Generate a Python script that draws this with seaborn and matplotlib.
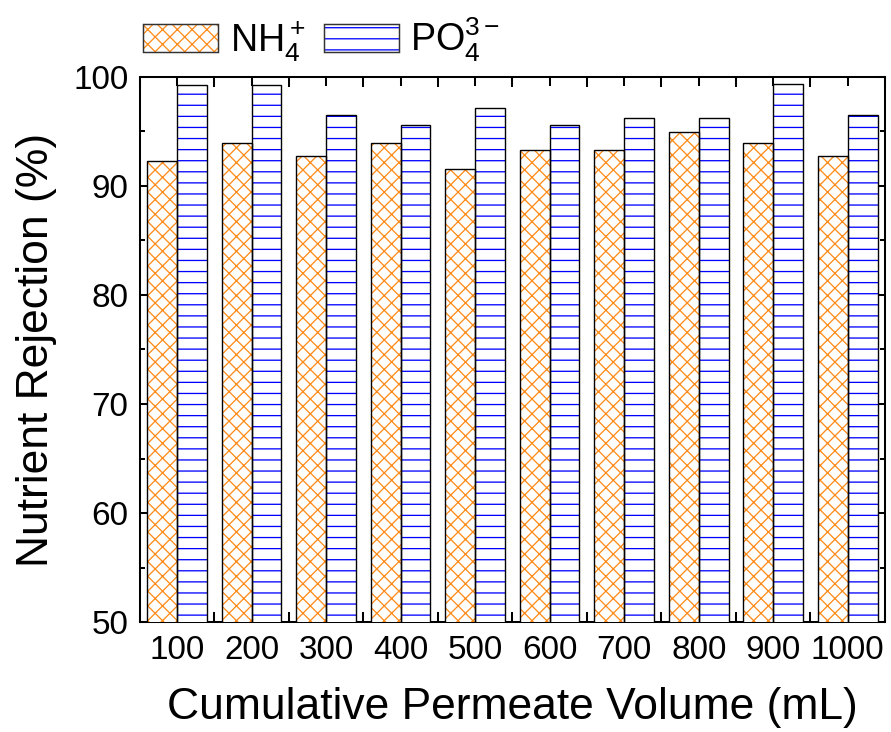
import numpy as np
import pandas as pd
import matplotlib
matplotlib.use('Agg')
import matplotlib.pyplot as plt
import matplotlib.patches as mpatches
import seaborn as sns
from matplotlib.ticker import MultipleLocator, FixedLocator

# values
volumes = ['100', '200', '300', '400', '500', '600', '700', '800', '900', '1000']
nh4 = [92.3, 93.9, 92.7, 93.9, 91.5, 93.3, 93.3, 94.9, 93.9, 92.7]
po4 = [99.2, 99.2, 96.5, 95.6, 97.1, 95.6, 96.2, 96.2, 99.3, 96.5]
ions = ['NH4', 'PO4']
ion_labels = [r'NH$_4^+$', r'PO$_4^{3-}$']

hatch_colors = {'NH4': '#ff8c1a', 'PO4': '#0000ff'}
hatches = {'NH4': 'xxx', 'PO4': '--'}

df = pd.DataFrame({
    'Volume': volumes * 2,
    'Rejection': nh4 + po4,
    'Ion': ['NH4'] * len(volumes) + ['PO4'] * len(volumes),
})

sns.set_theme(style='ticks', rc={
    'axes.edgecolor': 'black',
    'axes.linewidth': 1.1,
    'xtick.color': 'black',
    'ytick.color': 'black',
    'text.color': 'black',
    'axes.labelcolor': 'black',
})
plt.rcParams['font.family'] = ['Liberation Sans', 'DejaVu Sans']
plt.rcParams['mathtext.fontset'] = 'custom'
plt.rcParams['mathtext.rm'] = 'Liberation Sans'
plt.rcParams['mathtext.it'] = 'Liberation Sans:italic'
plt.rcParams['mathtext.bf'] = 'Liberation Sans:bold'
plt.rcParams['hatch.linewidth'] = 0.7

DPI = 133
fig = plt.figure(figsize=(891.2 / DPI, 732.2 / DPI), dpi=DPI)
ax = fig.add_axes([0.157, 0.150, 0.836, 0.745])

sns.barplot(
    data=df, x='Volume', y='Rejection', hue='Ion',
    order=volumes, hue_order=ions,
    palette={'NH4': 'white', 'PO4': 'white'},
    width=0.8, gap=0, errorbar=None, legend=False,
    linewidth=0, zorder=3, ax=ax
)

# hatch colour differs from the outline, so draw outlines on top
for ion, container in zip(ions, ax.containers):
    for bar in container:
        bar.set_hatch(hatches[ion])
        bar.set_edgecolor(hatch_colors[ion])
        bar.set_linewidth(0)
        ax.add_patch(mpatches.Rectangle(
            bar.get_xy(), bar.get_width(), bar.get_height(),
            fill=False, edgecolor='black', linewidth=0.75, zorder=4
        ))

ax.set_ylim(50, 100)
ax.set_xlim(-0.5, len(volumes) - 0.5)
ax.yaxis.set_major_locator(MultipleLocator(10))
ax.yaxis.set_minor_locator(MultipleLocator(5))
ax.xaxis.set_minor_locator(FixedLocator(np.arange(-0.5, len(volumes), 1)))
ax.tick_params(which='both', direction='in', top=True, right=True, width=1.1)
ax.tick_params(axis='y', which='major', length=4.5, labelsize=18, pad=6.3)
ax.tick_params(axis='y', which='minor', length=2.9)
ax.tick_params(axis='x', which='major', length=5, labelsize=18, pad=7)
ax.tick_params(axis='x', which='minor', length=5.4)

ax.set_xlabel('Cumulative Permeate Volume (mL)', fontsize=24, labelpad=11)
ax.set_ylabel('Nutrient Rejection (%)', fontsize=24, labelpad=8.5)

handles = []
for ion in ions:
    fill = mpatches.Patch(facecolor='white', edgecolor=hatch_colors[ion],
                          hatch=hatches[ion], linewidth=0)
    edge = mpatches.Patch(facecolor='none', edgecolor='#333333', linewidth=0.8)
    handles.append((fill, edge))
ax.legend(handles, ion_labels, loc='lower left', bbox_to_anchor=(0.004, 1.024),
          ncol=2, frameon=False, fontsize=20.4, handlelength=2.0,
          handleheight=0.77, handletextpad=0.3, columnspacing=0.5,
          borderpad=0, borderaxespad=0)

fig.savefig('out.png', dpi=DPI)
